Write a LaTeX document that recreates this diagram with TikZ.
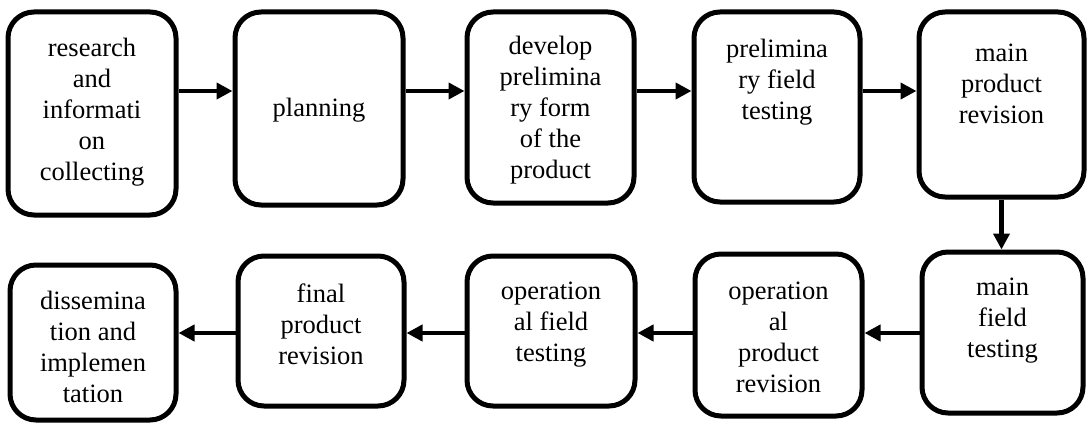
\documentclass[tikz,border=0pt]{standalone}
\usepackage{fontspec}
\setmainfont{Liberation Serif}
\usetikzlibrary{arrows.meta}
\begin{document}
\begin{tikzpicture}[x=1pt,y=-1pt,
  stage/.style={draw, line width=5pt, rounded corners=26pt, inner sep=0pt},
  words/.style={align=center, font=\fontsize{26.5}{31}\selectfont, inner sep=0pt},
  flow/.style={line width=4.3pt, -{Triangle[length=16pt,width=16pt]}}
]
\useasboundingbox (0,0) rectangle (1088,428);

% upper row, left to right
\node[stage, minimum width=168pt, minimum height=203pt] (b1) at (92,113.5) {};
\node[stage, minimum width=168pt, minimum height=193pt] (b2) at (319,108.5) {};
\node[stage, minimum width=167pt, minimum height=191pt] (b3) at (550.5,107.5) {};
\node[stage, minimum width=166pt, minimum height=190pt] (b4) at (777,107) {};
\node[stage, minimum width=165pt, minimum height=185pt] (b5) at (1001.5,104.5) {};

% lower row, right to left
\node[stage, minimum width=161pt, minimum height=161pt] (b6) at (1002.5,332.5) {};
\node[stage, minimum width=167pt, minimum height=162pt] (b7) at (778.5,335) {};
\node[stage, minimum width=168pt, minimum height=150pt] (b8) at (551,331) {};
\node[stage, minimum width=166pt, minimum height=150pt] (b9) at (321,331) {};
\node[stage, minimum width=166pt, minimum height=155pt] (b10) at (93,342.5) {};

% stage texts
\node[words] (t1) at (92,112.5) {research\\and\\informati\\on\\collecting};
\node[words] (t2) at (319,110) {planning};
\node[words] (t3) at (550.5,110.5) {develop\\prelimina\\ry form\\of the\\product};
\node[words] (t4) at (777,82.5) {prelimina\\ry field\\testing};
\node[words] (t5) at (1001.5,83.5) {main\\product\\revision};
\node[words] (t6) at (1002.5,321) {main\\field\\testing};
\node[words] (t7) at (778.5,337) {operation\\al\\product\\revision};
\node[words] (t8) at (551,325) {operation\\al field\\testing};
\node[words] (t9) at (321,324) {final\\product\\revision};
\node[words] (t10) at (93,347) {dissemina\\tion and\\implemen\\tation};

% arrow levels of the two rows
\coordinate (upper) at (0,91);
\coordinate (lower) at (0,333);

\draw[flow] (b1.east |- upper) -- (b2.west |- upper);
\draw[flow] (b2.east |- upper) -- (b3.west |- upper);
\draw[flow] (b3.east |- upper) -- (b4.west |- upper);
\draw[flow] (b4.east |- upper) -- (b5.west |- upper);
\draw[flow] (b5.south) -- (b5.south |- b6.north);
\draw[flow] (b6.west |- lower) -- (b7.east |- lower);
\draw[flow] (b7.west |- lower) -- (b8.east |- lower);
\draw[flow] (b8.west |- lower) -- (b9.east |- lower);
\draw[flow] (b9.west |- lower) -- (b10.east |- lower);
\end{tikzpicture}
\end{document}
